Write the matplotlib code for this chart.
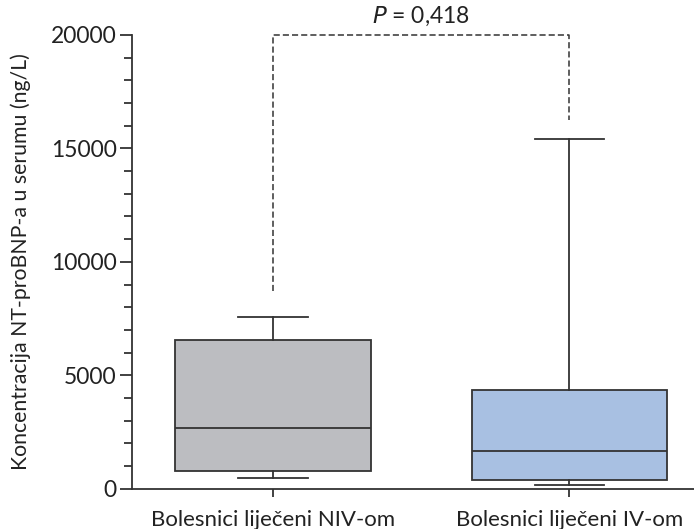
import matplotlib.pyplot as plt
from matplotlib.ticker import MultipleLocator

plt.rcParams['font.family'] = ['Lato', 'DejaVu Sans']

# podaci ocitani sa slike (ng/L)
grupe = ['Bolesnici liječeni NIV-om', 'Bolesnici liječeni IV-om']
donji_brk = [480, 180]
q1 = [790, 400]
medijan = [2690, 1670]
q3 = [6560, 4360]
gornji_brk = [7580, 15420]
boje = ['#bcbdc1', '#a8c0e2']
p_tekst = '$P$ = 0,418'

fig = plt.figure(figsize=(6.94, 5.29), dpi=100)
ax = fig.add_axes([0.19, 0.076, 0.81, 0.858])

stats = []
for i in range(len(grupe)):
    stats.append({'whislo': donji_brk[i], 'q1': q1[i], 'med': medijan[i],
                  'q3': q3[i], 'whishi': gornji_brk[i], 'label': grupe[i]})

bp = ax.bxp(stats, positions=[1, 2], widths=0.66, capwidths=0.235,
            showfliers=False, patch_artist=True,
            boxprops=dict(edgecolor='#333333', linewidth=1.3),
            medianprops=dict(color='#333333', linewidth=1.3),
            whiskerprops=dict(color='#333333', linewidth=1.3),
            capprops=dict(color='#333333', linewidth=1.3))
for patch, c in zip(bp['boxes'], boje):
    patch.set_facecolor(c)

# isprekidana zagrada s P vrijednoscu
ax.plot([1, 1, 2, 2], [8700, 20000, 20000, 16250], ls=(0, (4, 2)),
        color='#333333', lw=1.1, clip_on=False)
ax.text(1.5, 20300, p_tekst, ha='center', va='bottom', fontsize=16.5,
        color='#222222')

ax.set_xlim(0.524, 2.42)
ax.set_ylim(0, 20000)
ax.yaxis.set_major_locator(MultipleLocator(5000))
ax.yaxis.set_minor_locator(MultipleLocator(1000))
ax.spines['top'].set_visible(False)
ax.spines['right'].set_visible(False)
for s in ['left', 'bottom']:
    ax.spines[s].set_linewidth(1.3)
    ax.spines[s].set_color('#333333')
ax.tick_params(axis='y', which='major', length=9, width=1.3, labelsize=16.5,
               colors='#333333', labelcolor='#222222', pad=2)
ax.tick_params(axis='y', which='minor', length=6, width=1.3, colors='#333333')
ax.tick_params(axis='x', length=6, width=1.3, labelsize=16, pad=9,
               colors='#333333', labelcolor='#222222')
ax.set_ylabel('Koncentracija NT-proBNP-a u serumu (ng/L)', fontsize=15.3,
              color='#222222', labelpad=14)

fig.savefig('out.png', dpi=100)
